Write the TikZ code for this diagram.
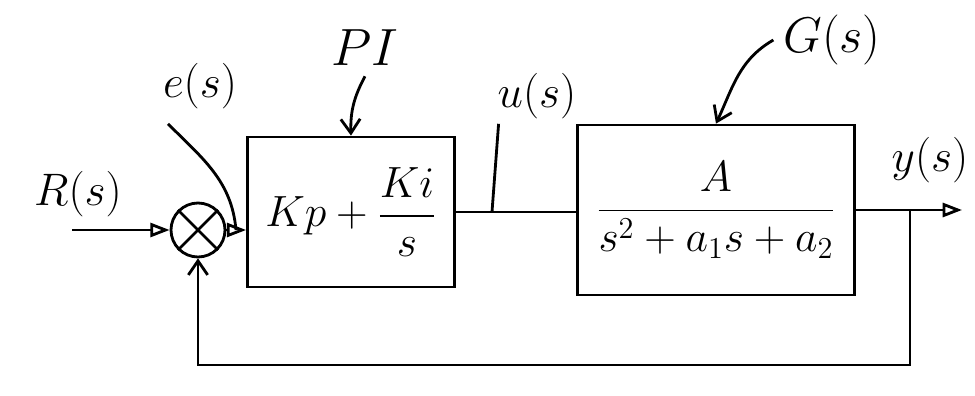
\documentclass[tikz,border=0pt]{standalone}
\usepackage{amsmath}
\usetikzlibrary{arrows.meta}

\begin{document}
\begin{tikzpicture}[x=0.02cm,y=-0.02cm,
  line width=1.6pt,
  block/.style={draw, line width=1.6pt, inner sep=0pt},
  sum_circle/.style={draw, circle, line width=1.6pt, minimum size=1.08cm, inner sep=0pt},
  sig/.style={-{Triangle[open,length=11pt,width=8pt]}},
  pointer/.style={-{Straight Barb[length=8pt,width=11pt]}},
  tag/.style={font=\huge, scale=1.25}]
\useasboundingbox (0,0) rectangle (975,396);
% blocks
\node[sum_circle] (sum_node) at (198,230) {};
\draw (sum_node.45) -- (sum_node.225);
\draw (sum_node.135) -- (sum_node.315);
\node[block, minimum width=4.14cm, minimum height=3cm] (pi_block) at (351,212) {\scalebox{1.2}{\huge$Kp+\dfrac{Ki}{s}$}};
\node[block, minimum width=5.54cm, minimum height=3.4cm] (plant_block) at (716,210) {\scalebox{1.2}{\huge$\dfrac{A}{s^2+a_1s+a_2}$}};
% labels
\node[tag] (r_label) at (78,194) {$R(s)$};
\node[tag] (e_label) at (200,86) {$e(s)$};
\node[tag, scale=1.15] (pi_label) at (365,48) {$PI$};
\node[tag] (u_label) at (537,96) {$u(s)$};
\node[tag, scale=1.1] (g_label) at (832,40) {$G(s)$};
\node[tag] (y_label) at (930,160) {$y(s)$};
% points on the wires
\coordinate (r_start) at (72,230);
\coordinate (y_end) at (962,210);
\coordinate (branch) at (910,210);
\coordinate (fb_right) at (910,365);
\coordinate (fb_left) at (198,365);
\coordinate (e_point) at (236,230);
\coordinate (u_point) at (492,212);
% signal lines
\draw[sig] (r_start) -- (sum_node.west);
\draw[sig] (sum_node.east) -- (sum_node.east -| pi_block.west);
\draw (pi_block.east) -- (pi_block.east -| plant_block.west);
\draw[sig] (plant_block.east) -- (y_end);
\draw[pointer] (branch) -- (fb_right) -- (fb_left) -- (sum_node.south);
% label pointers
\draw (e_label.south west) ++(14,6) to[out=-45,in=95] (e_point);
\draw (u_label.south west) ++(10,-4) -- (u_point);
\draw[pointer] (pi_label.south) to[bend right=15] (pi_block.north);
\draw[pointer] (g_label.west) to[out=210,in=65] (plant_block.north);
\end{tikzpicture}
\end{document}
